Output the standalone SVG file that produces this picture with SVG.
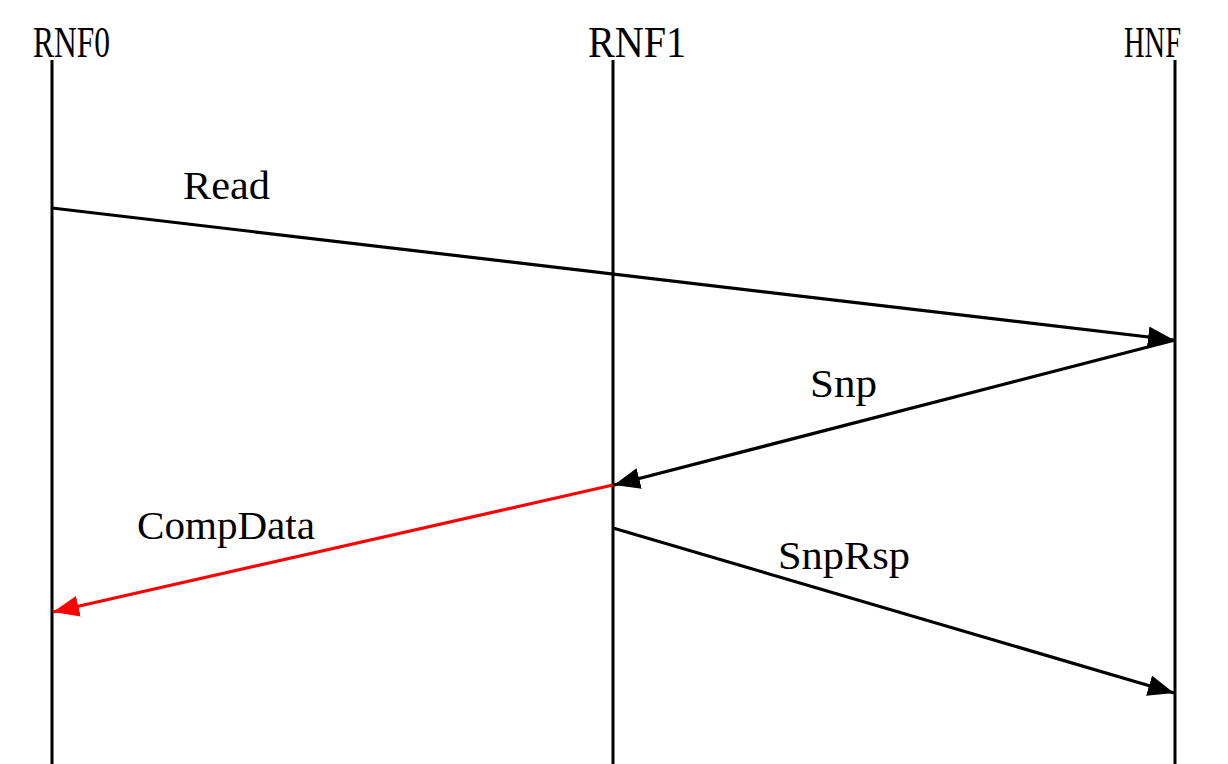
<svg xmlns="http://www.w3.org/2000/svg" width="1228" height="764" viewBox="0 0 1228 764">
<style>
.t{font-family:"Liberation Serif","Times New Roman",serif;font-size:40px;fill:#000}
.h{font-size:44px}
.life{stroke:#000;stroke-width:3;fill:none}
.msg{stroke:#000;stroke-width:3.2;fill:none}
.red{stroke:#f00;stroke-width:3.2;fill:none}
</style>
<defs>
<marker id="ah" markerUnits="userSpaceOnUse" markerWidth="28" markerHeight="24" refX="26" refY="10.5" orient="auto"><path d="M0,0 L26,10.5 L0,21 z" fill="#000"/></marker>
<marker id="ahr" markerUnits="userSpaceOnUse" markerWidth="28" markerHeight="24" refX="26" refY="10.5" orient="auto"><path d="M0,0 L26,10.5 L0,21 z" fill="#f00"/></marker>
</defs>
<rect width="1228" height="764" fill="#fff"/>
<g id="RNF0"><text class="t h" x="33" y="57" textLength="77" lengthAdjust="spacingAndGlyphs">RNF0</text><line class="life" x1="52" y1="60" x2="52" y2="764"/></g>
<g id="RNF1"><text class="t h" x="588" y="57" textLength="98" lengthAdjust="spacingAndGlyphs">RNF1</text><line class="life" x1="613" y1="60" x2="613" y2="764"/></g>
<g id="HNF"><text class="t h" x="1124" y="57" textLength="57" lengthAdjust="spacingAndGlyphs">HNF</text><line class="life" x1="1175" y1="60" x2="1175" y2="764"/></g>
<g id="connectors">
<line class="msg" x1="52" y1="208" x2="1174" y2="340" marker-end="url(#ah)"/>
<line class="msg" x1="1175" y1="340" x2="614" y2="485" marker-end="url(#ah)"/>
<line class="red" x1="613" y1="485" x2="53" y2="612" marker-end="url(#ahr)"/>
<line class="msg" x1="613" y1="528" x2="1174" y2="693" marker-end="url(#ah)"/>
<text class="t" x="183" y="199" textLength="87" lengthAdjust="spacingAndGlyphs">Read</text>
<text class="t" x="810" y="397" textLength="67" lengthAdjust="spacingAndGlyphs">Snp</text>
<text class="t" x="137" y="539" textLength="178" lengthAdjust="spacingAndGlyphs">CompData</text>
<text class="t" x="778" y="569" textLength="132" lengthAdjust="spacingAndGlyphs">SnpRsp</text>
</g>
</svg>
